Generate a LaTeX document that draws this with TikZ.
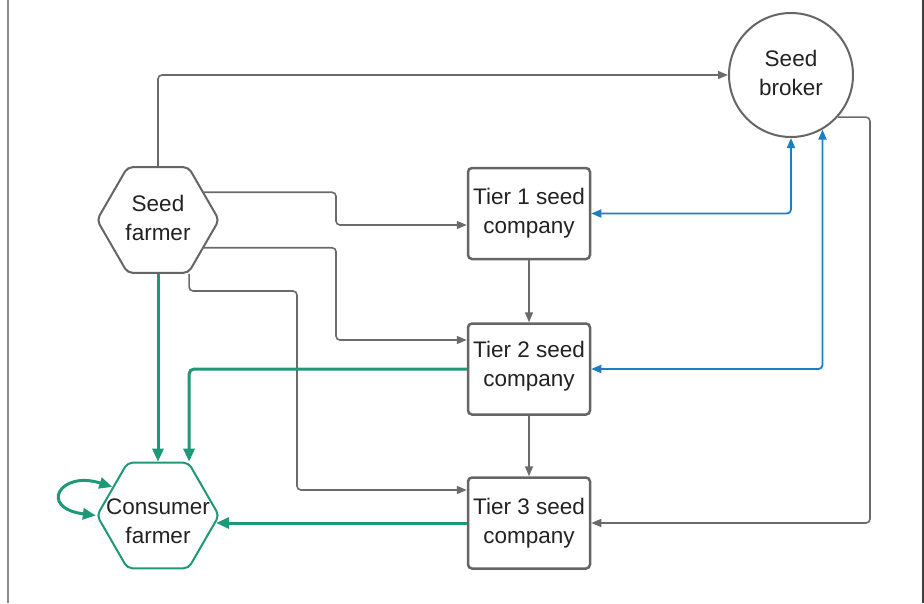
\documentclass[tikz,border=0pt]{standalone}
\usepackage{fontspec}
\setmainfont{Liberation Sans}
\usetikzlibrary{shapes.geometric,arrows.meta,calc}
\definecolor{lgray}{HTML}{6A6A6A}
\definecolor{bgray}{HTML}{656565}
\definecolor{tgreen}{HTML}{1E9878}
\definecolor{tblue}{HTML}{1B7FC4}
\definecolor{txt}{HTML}{222222}
\begin{document}
\begin{tikzpicture}[x=1pt,y=-1pt,
  every node/.style={font=\fontsize{22.5}{29}\selectfont, text=txt},
  hexnode/.style={regular polygon, regular polygon sides=6, minimum size=122pt,
    inner sep=0pt, draw=bgray, line width=2pt, rounded corners=5pt, fill=white},
  tierbox/.style={rectangle, minimum width=122pt, minimum height=91pt, inner sep=0pt,
    draw=bgray, line width=2.5pt, rounded corners=4pt, align=center, fill=white},
  brokernode/.style={circle, minimum size=124pt, inner sep=0pt, draw=bgray,
    line width=2pt, align=center, fill=white},
  garrow/.style={draw=lgray, line width=1.6pt, rounded corners=4pt,
    -{Triangle[length=10pt,width=8pt]}, color=lgray},
  grnarrow/.style={draw=tgreen, line width=3pt, rounded corners=5pt,
    -{Triangle[length=13pt,width=11pt]}, color=tgreen},
  bluearrow/.style={draw=tblue, line width=1.8pt, rounded corners=4pt,
    {Triangle[length=10pt,width=8pt]}-{Triangle[length=10pt,width=8pt]}, color=tblue}
]
\useasboundingbox (0,0) rectangle (924,603);
\draw[color=black!45, line width=2pt] (7.5,0) -- (7.5,603);
\draw[color=black!75, line width=2pt] (922.5,0) -- (922.5,603);

% nodes
\node[brokernode] (br) at (791,75) {};
\node[align=center] at ([yshift=2pt]br.center) {Seed\\broker};
\node[hexnode, label={[align=center, text=txt, yshift=2pt]center:Seed\\farmer}] (sf) at (158,220) {};
\node[hexnode, draw=tgreen, label={[align=center, text=txt, yshift=-6pt]center:Consumer\\farmer}] (cf) at (158,515.5) {};
\node[tierbox] (t1) at (529,213.5) {Tier 1 seed\\company};
\node[tierbox] (t2) at (529,369) {};
\node[align=center] at ([yshift=2.5pt]t2.center) {Tier 2 seed\\company};
\node[tierbox] (t3) at (529,523) {Tier 3 seed\\company};

% bend coordinates
\coordinate (bx1) at (336,0);
\coordinate (rx) at (870,0);
\coordinate (m1) at (297,291);

% gray connectors
\draw[garrow] (sf.north) |- (br.west);
\draw[garrow] (br.-42) -| (t3.east -| rx) -- (t3.east);
\draw[garrow] (t1.south) -- (t2.north);
\draw[garrow] (t2.south) -- (t3.north);
\draw[garrow] (sf.31) -- (sf.31 -| bx1) -- ([yshift=-11.5pt]t1.west -| bx1) -- ([yshift=-11.5pt]t1.west);
\draw[garrow] (sf.-31) -- (sf.-31 -| bx1) -- ([yshift=29pt]t2.west -| bx1) -- ([yshift=29pt]t2.west);
\draw[garrow] (sf.-60) |- (m1) |- ([yshift=33pt]t3.west);

% blue connectors
\draw[bluearrow] (t1.east) -| (br.south);
\draw[bluearrow] (t2.east) -| (br.-60);

% green connectors
\draw[grnarrow] (sf.south) -- (cf.north);
\draw[grnarrow] (t2.west) -| (cf.60);
\draw[grnarrow] (t3.west) -- (cf.-7.5 |- t3.west);
\draw[draw=tgreen, line width=3pt, color=tgreen,
  {Triangle[length=13pt,width=11pt]}-{Triangle[length=13pt,width=11pt]}]
  (cf.148) .. controls (60,470) and (38,508) .. (cf.west);
\end{tikzpicture}
\end{document}
